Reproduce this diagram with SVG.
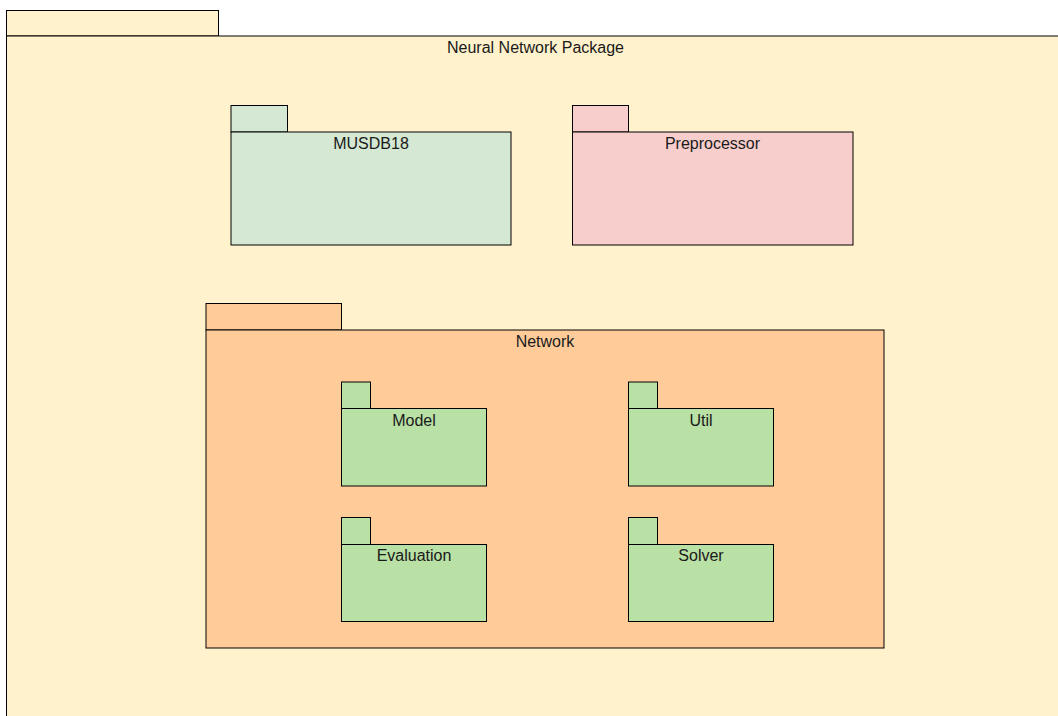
<svg xmlns="http://www.w3.org/2000/svg" width="1058" height="716" viewBox="0 0 1058 716">
  <style>
    .pkg rect { stroke: #000; stroke-width: 1; }
    .outer rect { fill: #fff2cc; }
    .data rect { fill: #d5e8d4; }
    .prep rect { fill: #f8cecc; }
    .net rect { fill: #ffcc99; }
    .sub rect { fill: #b9e0a5; }
    text { font-family: "Liberation Sans", Arial, Helvetica, sans-serif; font-size: 16px; fill: #1a1a1a; text-anchor: middle; }
  </style>
  <rect x="0" y="0" width="1058" height="716" fill="#ffffff"/>

  <!-- top-level package, extends beyond the page -->
  <g id="neural-network-package" class="pkg outer">
    <rect x="6.5" y="10.5" width="212" height="25.5"/>
    <rect x="6.5" y="36" width="1070" height="700"/>
    <text x="535.5" y="53">Neural Network Package</text>
  </g>

  <g id="musdb18" class="pkg data">
    <rect x="231" y="105.5" width="56.5" height="26.5"/>
    <rect x="231" y="132" width="280" height="113"/>
    <text x="371" y="149">MUSDB18</text>
  </g>

  <g id="preprocessor" class="pkg prep">
    <rect x="572.5" y="105.5" width="56" height="26.5"/>
    <rect x="572.5" y="132" width="280.5" height="113"/>
    <text x="712.5" y="149">Preprocessor</text>
  </g>

  <g id="network" class="pkg net">
    <rect x="206" y="303.5" width="135.5" height="26.5"/>
    <rect x="206" y="330" width="678" height="318"/>
    <text x="545" y="347">Network</text>
  </g>

  <g id="model" class="pkg sub">
    <rect x="341.5" y="382" width="29" height="26.5"/>
    <rect x="341.5" y="408.5" width="145" height="77.5"/>
    <text x="414" y="425.5">Model</text>
  </g>

  <g id="util" class="pkg sub">
    <rect x="628.5" y="382" width="29" height="26.5"/>
    <rect x="628.5" y="408.5" width="145" height="77.5"/>
    <text x="701" y="425.5">Util</text>
  </g>

  <g id="evaluation" class="pkg sub">
    <rect x="341.5" y="517.5" width="29" height="27"/>
    <rect x="341.5" y="544.5" width="145" height="77"/>
    <text x="414" y="561">Evaluation</text>
  </g>

  <g id="solver" class="pkg sub">
    <rect x="628.5" y="517.5" width="29" height="27"/>
    <rect x="628.5" y="544.5" width="145" height="77"/>
    <text x="701" y="561">Solver</text>
  </g>

  <g id="connectors"></g>
</svg>
